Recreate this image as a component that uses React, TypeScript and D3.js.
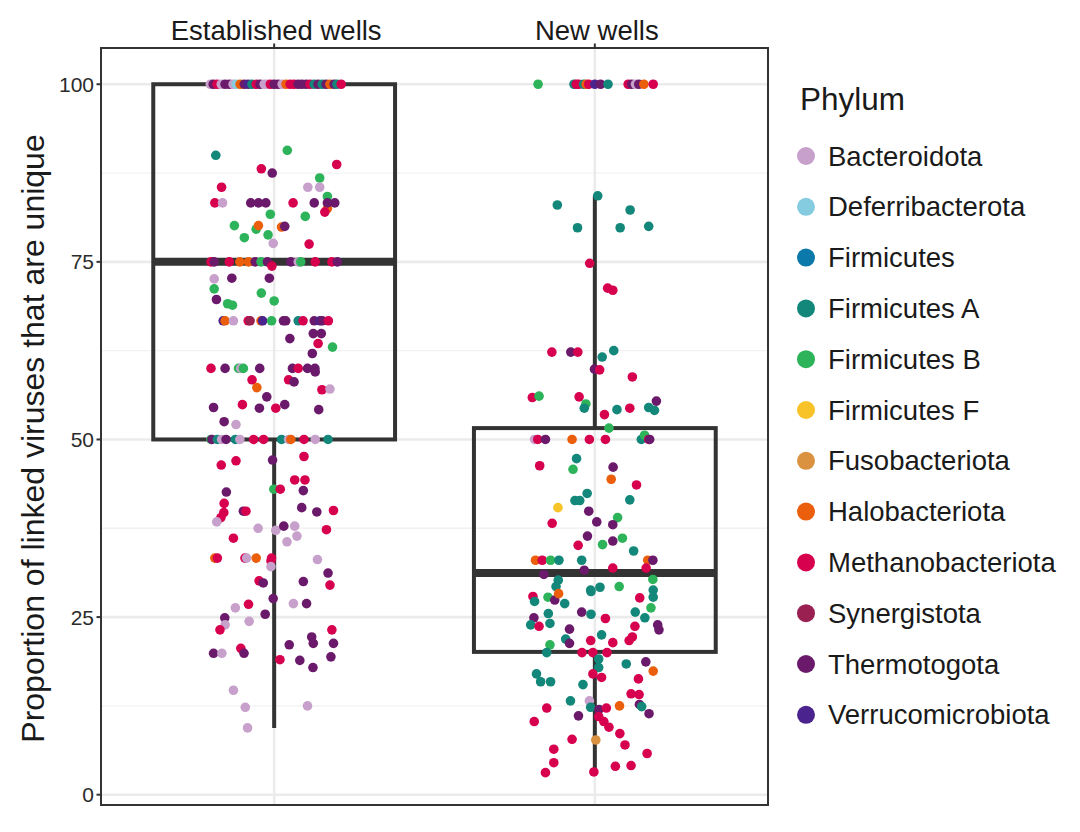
import React from "react";
import * as d3 from "d3";

const categories = ["Established wells", "New wells"];
const phylumCodes = ["B", "D", "F", "FA", "FB", "FF", "Fu", "H", "M", "S", "T", "V"];
const phylumNames = [
  "Bacteroidota", "Deferribacterota", "Firmicutes", "Firmicutes A", "Firmicutes B", "Firmicutes F",
  "Fusobacteriota", "Halobacteriota", "Methanobacteriota", "Synergistota", "Thermotogota", "Verrucomicrobiota",
];
const phylumColors = [
  "#C7A0CB", "#86CCE0", "#0B79A9", "#13877A", "#2DB35A", "#F8C328",
  "#DA9241", "#EB5E0B", "#D6004F", "#9A2052", "#6B1A6B", "#4B238E",
];
const yTicks = [0, 25, 50, 75, 100];
const yMinorTicks = [12.5, 37.5, 62.5, 87.5];

// box statistics per category: lower whisker, Q1, median, Q3, upper whisker
const boxLower = [9.4, 3.2];
const boxQ1 = [50, 20.1];
const boxMedian = [75, 31.2];
const boxQ3 = [100, 51.6];
const boxUpper = [100, 84.3];

// [jitter (category units), proportion, phylum code]
const establishedPoints: [number, number, string][] = [
  [-0.199, 100, "B"], [-0.19, 100, "T"], [-0.178, 100, "M"], [-0.165, 100, "B"], [-0.153, 100, "T"],
  [-0.14, 100, "T"], [-0.128, 100, "B"], [-0.118, 100, "D"], [-0.106, 100, "H"], [-0.093, 100, "T"],
  [-0.081, 100, "V"], [-0.069, 100, "FA"], [-0.056, 100, "M"], [-0.044, 100, "T"], [-0.031, 100, "B"],
  [-0.022, 100, "B"], [-0.012, 100, "M"], [0, 100, "T"], [0.012, 100, "T"], [0.025, 100, "B"],
  [0.037, 100, "H"], [0.05, 100, "M"], [0.062, 100, "M"], [0.075, 100, "T"], [0.087, 100, "T"],
  [0.1, 100, "T"], [0.112, 100, "M"], [0.125, 100, "FA"], [0.137, 100, "T"], [0.15, 100, "FA"],
  [0.162, 100, "T"], [0.174, 100, "H"], [0.187, 100, "T"], [0.196, 100, "FA"], [0.209, 100, "M"],
  [-0.182, 90.0, "FA"], [0.041, 90.7, "FB"], [0.195, 88.7, "M"], [-0.04, 88.1, "M"], [-0.006, 87.5, "T"],
  [0.142, 86.8, "FB"], [-0.164, 85.5, "M"], [0.105, 85.5, "B"], [0.142, 85.5, "B"], [0.166, 84.2, "FB"],
  [-0.185, 83.3, "M"], [-0.161, 83.3, "B"], [-0.073, 83.3, "T"], [-0.049, 83.3, "T"], [-0.026, 83.3, "T"],
  [0.059, 83.3, "M"], [0.166, 82.5, "H"], [0.125, 83.3, "T"], [0.166, 83.3, "T"], [0.189, 83.3, "T"],
  [-0.012, 81.7, "FB"], [0.097, 81.4, "FB"], [0.158, 82.0, "M"], [-0.124, 80.1, "FB"], [-0.056, 79.6, "FB"],
  [-0.049, 80.1, "H"], [0.023, 79.9, "H"], [0.033, 80.0, "T"], [-0.093, 78.4, "FB"], [-0.019, 78.8, "FB"],
  [-0.003, 77.6, "B"], [0.109, 77.5, "M"],
  [-0.197, 75, "M"], [-0.187, 75, "T"], [-0.14, 75, "M"], [-0.107, 75, "H"], [-0.08, 75, "H"],
  [-0.059, 75, "T"], [-0.041, 75, "FB"], [-0.021, 75, "T"], [-0.007, 74.4, "M"], [0.052, 75, "T"],
  [0.075, 75, "B"], [0.083, 75, "FB"], [0.128, 75, "M"], [0.18, 75, "M"], [0.197, 75, "T"],
  [-0.187, 72.6, "B"], [-0.132, 72.7, "T"], [-0.015, 72.7, "T"], [-0.187, 71.2, "FB"], [-0.04, 70.6, "FB"],
  [-0.18, 69.7, "T"], [-0.145, 69.1, "FB"], [-0.13, 68.9, "FB"], [0, 69.5, "FB"],
  [-0.159, 66.7, "V"], [-0.153, 66.7, "H"], [-0.127, 66.7, "B"], [-0.081, 66.7, "M"], [-0.075, 66.7, "S"],
  [-0.041, 66.7, "H"], [-0.036, 66.7, "V"], [-0.008, 66.7, "FB"], [0.029, 66.7, "T"], [0.036, 66.7, "T"],
  [0.075, 66.7, "FA"], [0.09, 66.7, "M"], [0.125, 66.7, "T"], [0.143, 66.7, "V"], [0.15, 66.7, "T"],
  [0.169, 66.7, "M"],
  [0.122, 64.9, "T"], [0.147, 64.9, "T"], [0.049, 64.2, "T"], [0.137, 63.5, "M"], [0.182, 63.0, "FB"],
  [0.119, 62.1, "T"],
  [-0.197, 60, "M"], [-0.153, 60, "T"], [-0.111, 60, "FB"], [-0.104, 60, "B"], [-0.096, 60, "FB"],
  [-0.045, 60, "T"], [0.057, 60, "T"], [0.075, 60, "M"], [0.104, 60, "T"], [0.127, 60, "T"],
  [0.128, 59.5, "T"],
  [-0.069, 58.4, "M"], [-0.054, 57.3, "H"], [0.045, 58.4, "M"], [0.062, 58.1, "T"], [0.149, 57.0, "M"],
  [0.174, 57.1, "B"], [-0.023, 56.0, "T"], [-0.189, 54.5, "T"], [-0.099, 54.9, "M"], [-0.046, 54.4, "T"],
  [0.005, 54.4, "M"], [0.033, 54.9, "T"], [0.139, 54.2, "T"], [-0.156, 52.5, "T"], [-0.119, 52.1, "B"],
  [-0.197, 50, "FB"], [-0.194, 50, "T"], [-0.177, 50, "FA"], [-0.164, 50, "B"], [-0.15, 50, "T"],
  [-0.121, 50, "FA"], [-0.107, 50, "B"], [-0.064, 50, "M"], [-0.033, 50, "M"], [0.023, 50, "FA"],
  [0.045, 50, "B"], [0.052, 50, "H"], [0.093, 50, "M"], [0.128, 50, "B"], [0.168, 50, "FA"],
  [-0.005, 47.1, "T"], [-0.165, 46.4, "M"], [-0.119, 47.0, "M"], [0.093, 47.6, "M"], [0.064, 44.3, "M"],
  [0.096, 44.3, "M"], [-0.001, 43.0, "FB"], [0.019, 43.0, "M"], [-0.149, 42.6, "T"], [0.091, 42.8, "T"],
  [-0.156, 41.0, "M"], [-0.157, 39.7, "M"], [-0.166, 39.0, "M"], [-0.179, 38.4, "B"], [-0.096, 39.9, "T"],
  [-0.088, 39.9, "M"], [0.086, 40.4, "T"], [0.133, 39.8, "T"], [0.185, 40.0, "M"], [-0.05, 37.5, "B"],
  [0.005, 37.2, "B"], [0.03, 37.8, "T"], [0.064, 37.8, "B"], [0.071, 36.4, "B"], [0.04, 35.6, "B"],
  [0.163, 37.3, "M"], [-0.127, 36.1, "M"],
  [-0.185, 33.3, "H"], [-0.177, 33.3, "M"], [-0.091, 33.3, "M"], [-0.086, 33.3, "B"], [-0.056, 33.3, "H"],
  [-0.008, 33.3, "M"], [-0.01, 32.9, "M"], [-0.01, 32.1, "B"], [0.135, 33.1, "B"], [0.168, 31.2, "T"],
  [0.174, 29.5, "M"], [-0.047, 30.1, "M"], [-0.034, 29.8, "T"], [0.091, 30.0, "T"], [-0.003, 27.6, "T"],
  [-0.08, 26.8, "M"], [0.06, 26.9, "B"], [0.101, 26.9, "T"], [-0.121, 26.3, "B"], [-0.154, 24.9, "T"],
  [-0.028, 25.4, "T"], [-0.078, 24.4, "B"], [-0.153, 23.9, "B"], [-0.169, 23.2, "M"], [0.18, 23.2, "M"],
  [0.117, 22.2, "T"], [0.122, 21.3, "T"], [0.185, 21.3, "T"], [0.047, 21.1, "T"], [-0.104, 20.6, "M"],
  [-0.189, 19.9, "T"], [-0.163, 19.9, "B"], [-0.094, 19.9, "T"], [0.018, 19.0, "M"], [0.08, 18.9, "T"],
  [0.177, 19.4, "T"], [0.121, 17.9, "T"], [-0.127, 14.7, "B"], [-0.09, 12.3, "B"], [0.104, 12.5, "B"],
  [-0.083, 9.4, "B"],
];

const newPoints: [number, number, string][] = [
  [-0.177, 100, "FB"], [-0.065, 100, "FA"], [-0.058, 100, "M"], [-0.05, 100, "M"], [-0.035, 100, "FA"],
  [-0.027, 100, "H"], [-0.019, 100, "M"], [0, 100, "V"], [0.018, 100, "T"], [0.041, 100, "FA"],
  [0.104, 100, "M"], [0.115, 100, "T"], [0.127, 100, "B"], [0.137, 100, "T"], [0.153, 100, "H"],
  [0.182, 100, "M"],
  [0.009, 84.3, "FA"], [-0.117, 83.0, "FA"], [0.11, 82.3, "FA"], [-0.054, 79.8, "FA"], [0.079, 79.8, "FA"],
  [0.168, 80.0, "FA"], [-0.016, 74.8, "M"], [0.04, 71.3, "M"], [0.056, 71.0, "M"],
  [-0.134, 62.3, "M"], [-0.075, 62.3, "T"], [-0.053, 62.3, "M"], [0.059, 62.5, "FA"], [0.023, 61.6, "FA"],
  [-0.001, 59.9, "T"], [0.015, 59.8, "M"], [0.117, 58.8, "M"], [-0.195, 55.9, "M"], [-0.174, 56.1, "FB"],
  [-0.049, 56.0, "M"], [-0.028, 55.0, "FB"], [-0.033, 54.4, "FA"], [0.03, 53.5, "M"], [0.069, 54.2, "FA"],
  [0.109, 54.4, "M"], [0.168, 54.5, "FA"], [0.186, 54.1, "FA"], [0.192, 55.4, "T"], [0.044, 51.6, "FB"],
  [-0.188, 50, "B"], [-0.178, 50, "M"], [-0.154, 50, "T"], [-0.071, 50, "H"], [-0.017, 50, "M"],
  [0.033, 50, "M"], [0.145, 50, "FA"], [0.155, 50.6, "FB"], [0.168, 50, "M"], [0.171, 50, "T"],
  [-0.057, 47.3, "FA"], [-0.172, 46.3, "M"], [-0.068, 45.8, "FB"], [0.057, 46.1, "T"], [0.051, 44.4, "H"],
  [0.13, 43.6, "M"], [-0.024, 42.4, "FA"], [-0.062, 41.4, "FA"], [-0.047, 41.4, "FA"], [0.109, 41.5, "FA"],
  [-0.115, 40.4, "FF"], [-0.019, 39.9, "T"], [-0.133, 38.2, "M"], [0.006, 38.4, "T"], [0.071, 39.0, "FB"],
  [0.056, 38.0, "T"], [-0.023, 36.4, "T"], [0.086, 36.1, "FB"], [0.056, 35.7, "T"], [0.024, 35.2, "FB"],
  [-0.052, 35.1, "M"], [0.121, 34.3, "FA"],
  [-0.185, 33.0, "H"], [-0.164, 33.0, "M"], [-0.138, 33.0, "FB"], [-0.112, 33.0, "FA"], [-0.041, 33.0, "FA"],
  [0.165, 33.0, "H"], [0.181, 33.0, "T"],
  [0.056, 31.9, "M"], [0.16, 31.9, "M"], [-0.159, 31.0, "T"], [-0.033, 31.6, "T"], [0.181, 30.3, "FB"],
  [-0.114, 30.2, "FA"], [-0.013, 28.8, "FA"], [0.016, 29.2, "FA"], [0.076, 29.3, "FB"], [0.182, 28.8, "FA"],
  [-0.193, 27.9, "M"], [-0.146, 27.8, "FB"], [-0.121, 29.3, "FA"], [0.14, 27.7, "M"], [-0.188, 27.2, "FA"],
  [-0.125, 27.4, "T"], [-0.113, 28.3, "H"], [-0.094, 26.9, "FA"], [-0.012, 28.6, "FA"], [0.182, 27.8, "FA"],
  [0.175, 26.3, "FB"], [-0.19, 24.9, "T"], [-0.145, 25.5, "FA"], [-0.2, 23.9, "FA"], [-0.174, 23.7, "M"],
  [-0.14, 24.1, "FA"], [-0.041, 25.7, "T"], [-0.012, 25.4, "FA"], [0.033, 24.8, "M"], [0.126, 25.7, "FA"],
  [0.156, 24.9, "FA"], [0.125, 23.7, "M"], [0.196, 23.9, "T"], [0.2, 23.2, "T"], [-0.079, 23.3, "T"],
  [-0.091, 21.9, "FA"], [-0.079, 21.3, "T"], [0.021, 22.5, "FA"], [-0.013, 21.7, "M"], [0.056, 21.4, "M"],
  [0.117, 22.2, "M"], [0.107, 21.7, "M"], [-0.14, 21.1, "FB"],
  [-0.15, 20.0, "FA"], [-0.04, 20.0, "M"], [-0.006, 20.0, "M"], [0.038, 20.0, "M"],
  [0.012, 19.1, "FA"], [0.012, 17.9, "FA"], [0.098, 18.4, "FA"], [0.159, 18.7, "T"], [0.182, 17.4, "H"],
  [-0.182, 17.0, "FA"], [-0.169, 15.9, "FA"], [-0.138, 15.9, "FA"], [-0.006, 17.0, "M"], [0.021, 16.5, "M"],
  [0.136, 16.3, "M"], [-0.037, 15.5, "FA"], [0.113, 14.2, "M"], [0.138, 14.1, "M"], [-0.076, 13.2, "FA"],
  [-0.017, 13.2, "B"], [-0.15, 12.2, "M"], [-0.013, 12.3, "FA"], [0.013, 12.0, "T"], [0.036, 12.2, "M"],
  [0.077, 12.5, "H"], [0.139, 12.7, "T"], [0.146, 12.4, "FA"], [0.169, 11.4, "T"], [-0.051, 11.1, "T"],
  [0.012, 11.0, "M"], [0.028, 10.3, "M"], [0.044, 9.5, "M"], [-0.189, 10.3, "M"], [0.078, 8.6, "M"],
  [0.003, 7.7, "Fu"], [-0.071, 7.8, "M"], [0.094, 7.0, "M"], [0.163, 5.8, "M"], [-0.128, 6.4, "M"],
  [-0.128, 4.5, "M"], [-0.154, 3.1, "M"], [-0.003, 3.2, "M"], [0.064, 4.0, "M"], [0.113, 4.1, "M"],
];

const pointGroups = [establishedPoints, newPoints];

const FONT = "'Liberation Sans', Arial, Helvetica, sans-serif";

export default function App() {
  const W = 1080;
  const H = 832;
  const panel = { left: 101, right: 768, top: 48, bottom: 805 };
  const x = d3.scaleLinear().domain([0.46, 2.54]).range([panel.left, panel.right]);
  const y = d3.scaleLinear().domain([-1.45, 105.1]).range([panel.bottom, panel.top]);
  const color = d3.scaleOrdinal<string, string>().domain(phylumCodes).range(phylumColors);
  const boxHalf = 0.377;
  const dark = "#333333";

  const legendY = d3.scaleLinear().domain([0, 1]).range([156, 206.8]);

  return (
    <svg
      width={W}
      height={H}
      viewBox={`0 0 ${W} ${H}`}
      style={{ position: "absolute", left: 0, top: 0, background: "#fff" }}
      fontFamily={FONT}
    >
      <rect x={0} y={0} width={W} height={H} fill="#fff" />
      {/* grid */}
      {yMinorTicks.map((t) => (
        <line key={"mn" + t} x1={panel.left} x2={panel.right} y1={y(t)} y2={y(t)} stroke="#F2F2F2" strokeWidth={1.3} />
      ))}
      {yTicks.map((t) => (
        <line key={"mj" + t} x1={panel.left} x2={panel.right} y1={y(t)} y2={y(t)} stroke="#EBEBEB" strokeWidth={2.6} />
      ))}
      {categories.map((c, i) => (
        <line key={"vg" + c} x1={x(i + 1)} x2={x(i + 1)} y1={panel.top} y2={panel.bottom} stroke="#EBEBEB" strokeWidth={2.6} />
      ))}

      {/* boxplots */}
      {categories.map((c, i) => {
        const cx = x(i + 1);
        const x0 = x(i + 1 - boxHalf);
        const x1 = x(i + 1 + boxHalf);
        return (
          <g key={"box" + c}>
            <line x1={cx} x2={cx} y1={y(boxQ3[i])} y2={y(boxUpper[i])} stroke={dark} strokeWidth={4} />
            <line x1={cx} x2={cx} y1={y(boxQ1[i])} y2={y(boxLower[i])} stroke={dark} strokeWidth={4} />
            <rect x={x0} y={y(boxQ3[i])} width={x1 - x0} height={y(boxQ1[i]) - y(boxQ3[i])} fill="none" stroke={dark} strokeWidth={4} />
            <line x1={x0} x2={x1} y1={y(boxMedian[i])} y2={y(boxMedian[i])} stroke={dark} strokeWidth={8} />
          </g>
        );
      })}

      {/* jittered points */}
      {pointGroups.map((pts, gi) => (
        <g key={"pts" + gi}>
          {pts.map((p, k) => (
            <circle key={k} cx={x(gi + 1 + p[0])} cy={y(p[1])} r={4.8} fill={color(p[2])} />
          ))}
        </g>
      ))}

      {/* panel border */}
      <rect x={panel.left} y={panel.top} width={panel.right - panel.left} height={panel.bottom - panel.top} fill="none" stroke={dark} strokeWidth={2} />

      {/* y axis */}
      {yTicks.map((t) => (
        <g key={"yt" + t}>
          <line x1={panel.left - 4.5} x2={panel.left} y1={y(t)} y2={y(t)} stroke={dark} strokeWidth={2} />
          <text x={panel.left - 7} y={y(t)} textAnchor="end" dominantBaseline="central" fontSize={21} fill="#2b2b2b">
            {t}
          </text>
        </g>
      ))}
      <text
        transform={`translate(44, ${(panel.top + panel.bottom) / 2 + 12}) rotate(-90)`}
        textAnchor="middle"
        fontSize={32}
        fill="#1a1a1a"
      >
        Proportion of linked viruses that are unique
      </text>

      {/* top category labels */}
      {categories.map((c, i) => (
        <g key={"xt" + c}>
          <line x1={x(i + 1)} x2={x(i + 1)} y1={panel.top - 4.5} y2={panel.top} stroke={dark} strokeWidth={2} />
          <text x={x(i + 1) + 2} y={40} textAnchor="middle" fontSize={27.5} fill="#1a1a1a">
            {c}
          </text>
        </g>
      ))}

      {/* legend */}
      <text x={800} y={110} fontSize={31.5} fill="#1a1a1a">
        Phylum
      </text>
      {phylumNames.map((n, i) => (
        <g key={"lg" + n}>
          <circle cx={806} cy={legendY(i)} r={9} fill={phylumColors[i]} />
          <text x={828} y={legendY(i)} dominantBaseline="central" fontSize={27.5} fill="#1a1a1a">
            {n}
          </text>
        </g>
      ))}
    </svg>
  );
}
